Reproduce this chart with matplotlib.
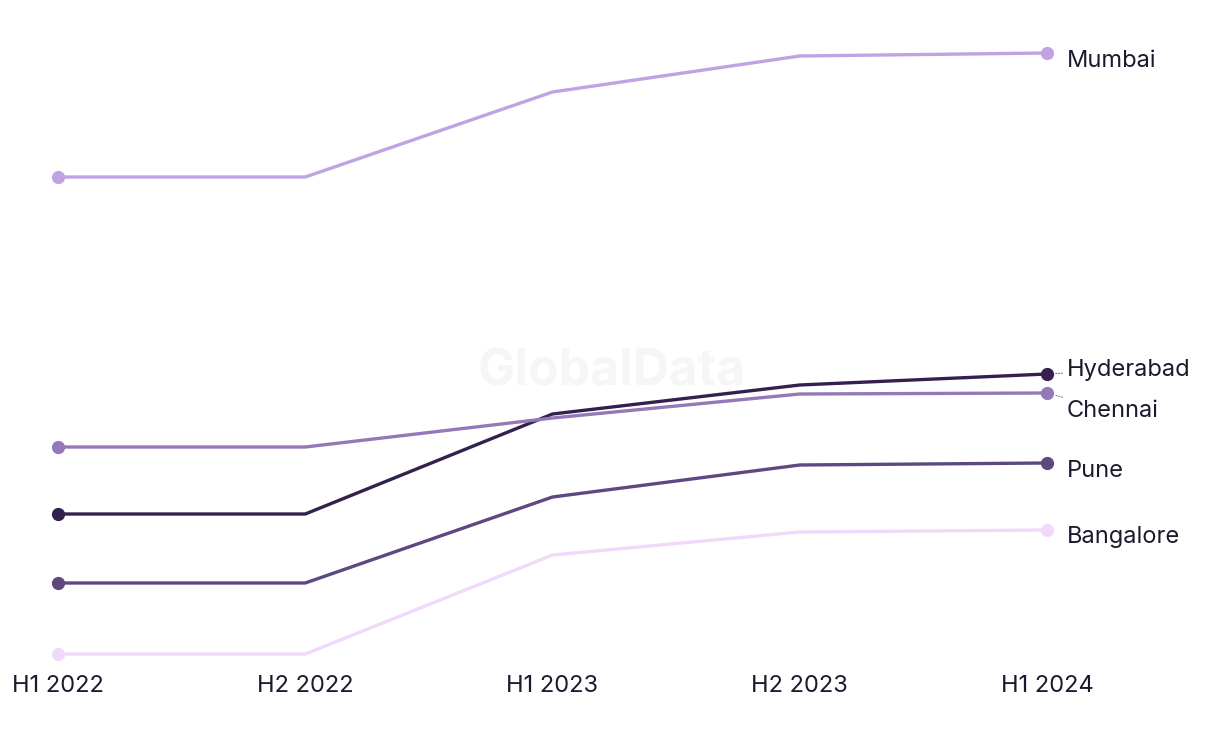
"""Office rents by city, H1 2022 - H1 2024"""
import matplotlib.pyplot as plt

plt.rcParams['font.family'] = ['Inter', 'DejaVu Sans']

periods = ['H1 2022', 'H2 2022', 'H1 2023', 'H2 2023', 'H1 2024']
cities = ['Mumbai', 'Hyderabad', 'Chennai', 'Pune', 'Bangalore']
mumbai = [52.3, 52.3, 60.8, 64.4, 64.7]
hyderabad = [18.6, 18.6, 28.6, 31.5, 32.6]
chennai = [25.3, 25.3, 28.2, 30.6, 30.7]
pune = [11.7, 11.7, 20.3, 23.5, 23.7]
bangalore = [4.6, 4.6, 14.5, 16.8, 17.0]

series = [mumbai, hyderabad, chennai, pune, bangalore]
colors = ['#bfa3e3', '#33204f', '#9479b8', '#5d4880', '#f0d9fa']
# label nudges in points (dy), leader line yes/no
nudges = [-6, 3, -13, -6, -5]
leaders = [False, True, True, False, False]

fig = plt.figure(figsize=(12.2, 7.44), dpi=100)
ax = fig.add_axes([58 / 1220, 1 - 654 / 744, (1047 - 58) / 1220, (654 - 53) / 744])
ax.set_xlim(0, len(periods) - 1)
ax.set_ylim(min(bangalore), max(mumbai))

x = list(range(len(periods)))
for name, vals, c, dy, lead in zip(cities, series, colors, nudges, leaders):
    ax.plot(x, vals, color=c, lw=2.4, clip_on=False, solid_capstyle='round')
    ax.plot([x[0], x[-1]], [vals[0], vals[-1]], 'o', color=c, ms=8.5,
            clip_on=False)
    arrow = None
    if lead:
        arrow = dict(arrowstyle='-', color='#777777', lw=0.8, ls=(0, (1, 1.5)),
                     shrinkA=1, shrinkB=6)
    ax.annotate(name, (x[-1], vals[-1]), xytext=(14, dy),
                textcoords='offset points', ha='left', va='center',
                fontsize=17, color='#1c1a2e', arrowprops=arrow,
                annotation_clip=False)

ax.text(0.56, 0.47, 'GlobalData', transform=ax.transAxes, ha='center',
        va='center', fontsize=36, fontweight='bold', color='#f6f6f6', zorder=0)

ax.set_xticks(x)
ax.set_xticklabels(periods, fontsize=17, color='#1c1a2e')
ax.tick_params(axis='x', length=0, pad=15)
ax.set_yticks([])
for s in ax.spines.values():
    s.set_visible(False)

plt.savefig('out.png', dpi=100)
